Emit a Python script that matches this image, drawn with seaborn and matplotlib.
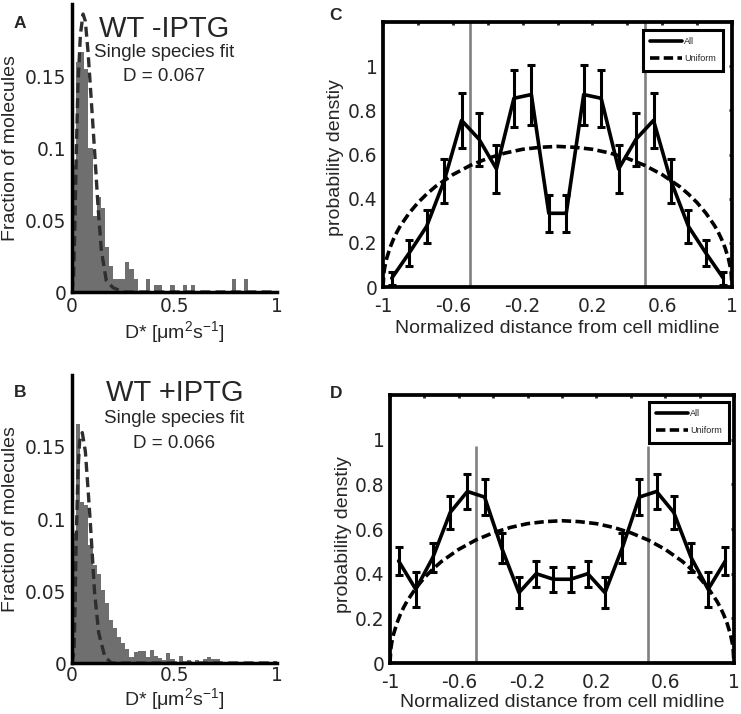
import numpy as np
import pandas as pd
import matplotlib
matplotlib.use("Agg")
import matplotlib.pyplot as plt
from matplotlib.lines import Line2D
import seaborn as sns

# --- panels A/B: D* histograms (fraction per 0.02 bin, 0..1) ---
bin_edges = np.linspace(0.0, 1.0, 51)
bin_centers = (bin_edges[:-1] + bin_edges[1:]) / 2

frac_minus_iptg = [
    0.088, 0.160, 0.167, 0.155, 0.100, 0.053, 0.066, 0.058, 0.031, 0.018,
    0.009, 0.009, 0.009, 0.021, 0.016, 0.009, 0.0, 0.0, 0.009, 0.0,
    0.0048, 0.0048, 0.0, 0.0, 0.0048, 0.0, 0.0, 0.0048, 0.0, 0.0048,
    0.0, 0.0, 0.0, 0.0, 0.0, 0.0, 0.0, 0.0, 0.0, 0.009,
    0.0, 0.0, 0.009, 0.0, 0.0, 0.0, 0.0, 0.0, 0.0, 0.0,
]
frac_plus_iptg = [
    0.090, 0.166, 0.112, 0.110, 0.082, 0.068, 0.062, 0.051, 0.042, 0.030,
    0.024, 0.018, 0.014, 0.010, 0.0045, 0.0075, 0.0085, 0.0085, 0.0045, 0.009,
    0.005, 0.0037, 0.002, 0.0068, 0.0025, 0.0, 0.005, 0.0, 0.0023, 0.0,
    0.0023, 0.0, 0.003, 0.004, 0.0025, 0.0025, 0.0, 0.0, 0.0, 0.0,
    0.0, 0.0, 0.0, 0.0, 0.0, 0.0007, 0.0, 0.0007, 0.0, 0.0015,
]

# single species fit curves
fit_minus_x = [0.0, 0.008, 0.013, 0.021, 0.029, 0.041, 0.054, 0.065, 0.078, 0.094,
               0.110, 0.127, 0.143, 0.167, 0.200, 0.250, 1.0]
fit_minus_y = [0.0, 0.012, 0.040, 0.098, 0.144, 0.179, 0.193, 0.188, 0.167, 0.133,
               0.098, 0.059, 0.029, 0.008, 0.003, 0.0, 0.0]
fit_plus_x = [0.0, 0.010, 0.016, 0.019, 0.024, 0.029, 0.037, 0.050, 0.065, 0.078,
              0.089, 0.099, 0.110, 0.130, 0.160, 0.192, 1.0]
fit_plus_y = [0.0, 0.008, 0.046, 0.077, 0.105, 0.133, 0.154, 0.160, 0.147, 0.121,
              0.098, 0.075, 0.049, 0.021, 0.0044, 0.0, 0.0]

# --- panels C/D: localisation along the cell ---
positions = [-0.95, -0.85, -0.75, -0.65, -0.55, -0.45, -0.35, -0.25, -0.15, -0.05,
             0.05, 0.15, 0.25, 0.35, 0.45, 0.55, 0.65, 0.75, 0.85, 0.95]
density_c = [0.04, 0.154, 0.275, 0.48, 0.755, 0.67, 0.535, 0.855, 0.872, 0.334,
             0.334, 0.872, 0.855, 0.535, 0.67, 0.755, 0.48, 0.275, 0.154, 0.04]
err_c = [0.03, 0.06, 0.075, 0.10, 0.125, 0.12, 0.11, 0.13, 0.136, 0.085,
         0.085, 0.136, 0.13, 0.11, 0.12, 0.125, 0.10, 0.075, 0.06, 0.03]
density_d = [0.457, 0.33, 0.474, 0.674, 0.768, 0.743, 0.514, 0.315, 0.40, 0.375,
             0.375, 0.40, 0.315, 0.514, 0.743, 0.768, 0.674, 0.474, 0.33, 0.457]
err_d = [0.062, 0.077, 0.065, 0.075, 0.077, 0.08, 0.067, 0.068, 0.058, 0.055,
         0.055, 0.058, 0.068, 0.067, 0.08, 0.077, 0.075, 0.065, 0.077, 0.062]

uniform_x = [-1.0, -0.995, -0.99, -0.98, -0.96, -0.94, -0.92, -0.90, -0.85, -0.80,
             -0.75, -0.70, -0.60, -0.50, -0.40, -0.30, -0.20, -0.10, 0.0,
             0.10, 0.20, 0.30, 0.40, 0.50, 0.60, 0.70, 0.75, 0.80, 0.85,
             0.90, 0.92, 0.94, 0.96, 0.98, 0.99, 0.995, 1.0]
uniform_y = [0.0, 0.064, 0.090, 0.127, 0.178, 0.217, 0.250, 0.278, 0.335, 0.382,
             0.421, 0.455, 0.509, 0.551, 0.583, 0.607, 0.624, 0.633, 0.637,
             0.633, 0.624, 0.607, 0.583, 0.551, 0.509, 0.455, 0.421, 0.382, 0.335,
             0.278, 0.250, 0.217, 0.178, 0.127, 0.090, 0.064, 0.0]

hist_ticks = [0, 0.05, 0.1, 0.15, 0.2]
hist_ticklabels = ["0", "0.05", "0.1", "0.15", ""]
dist_ticks = [-1, -0.8, -0.6, -0.4, -0.2, 0, 0.2, 0.4, 0.6, 0.8, 1]
dist_ticklabels = ["-1", "", "-0.6", "", "-0.2", "", "0.2", "", "0.6", "", "1"]
dens_ticks = [0, 0.2, 0.4, 0.6, 0.8, 1]
dens_ticklabels = ["0", "0.2", "0.4", "0.6", "0.8", "1"]

sns.set_style("white")
plt.rcParams["font.family"] = ["Liberation Sans", "DejaVu Sans"]
plt.rcParams["mathtext.default"] = "regular"
plt.rcParams["axes.unicode_minus"] = False

FS = 14
TICK_FS = 13.4
HIST_GRAY = "#6f6f6f"
UNIF_DASH = (0, (2.6, 1.2))

fig = plt.figure(figsize=(7.41, 7.14), dpi=100)


def hist_panel(rect, heights, fx, fy, title, dtext, tx, ty, xpad):
    ax = fig.add_axes(rect)
    hist_df = pd.DataFrame({"D": bin_centers, "frac": heights})
    sns.histplot(data=hist_df, x="D", weights="frac", binwidth=0.02, binrange=(0, 1),
                 element="step", fill=True, color=HIST_GRAY, alpha=1, linewidth=0, ax=ax)
    sns.lineplot(x=fx, y=fy, ax=ax, color="#2e2e2e", linewidth=2.4,
                 linestyle=(0, (3.0, 1.6)), sort=False)
    ax.set_xlim(0, 1)
    ax.set_ylim(0, 0.2)
    ax.set_xticks([0, 0.5, 1])
    ax.set_xticklabels(["0", "0.5", "1"])
    ax.set_yticks(hist_ticks)
    ax.set_yticklabels(hist_ticklabels)
    for side in ["top", "right"]:
        ax.spines[side].set_visible(False)
    for side in ["left", "bottom"]:
        ax.spines[side].set_linewidth(2.5)
        ax.spines[side].set_color("black")
    ax.tick_params(direction="in", length=2.5, width=2, labelsize=TICK_FS,
                   labelfontfamily="DejaVu Sans")
    ax.tick_params(axis="x", pad=xpad)
    ax.tick_params(axis="y", pad=4)
    ax.set_ylabel("Fraction of molecules", fontsize=FS, va="center")
    ax.yaxis.set_label_coords(-0.302, 0.5)
    ax.set_xlabel("D* [μm$^{2}$s$^{-1}$]", fontsize=FS, va="center")
    ax.text(tx, ty[0], title, transform=ax.transAxes, fontsize=21, ha="center", va="center")
    ax.text(tx, ty[1], "Single species fit", transform=ax.transAxes, fontsize=13.5,
            ha="center", va="center")
    ax.text(tx, ty[2], dtext, transform=ax.transAxes, fontsize=13.5, ha="center", va="center")
    return ax


def dist_panel(rect, dens, errs, vline_top, leg_anchor):
    ax = fig.add_axes(rect)
    ax.vlines([-0.5, 0.5], 0, vline_top, color="#808080", linewidth=1.9, zorder=1)
    sns.lineplot(x=uniform_x, y=uniform_y, ax=ax, color="black", linewidth=2.6,
                 linestyle=UNIF_DASH, sort=False, zorder=2)
    sns.lineplot(x=positions, y=dens, ax=ax, color="black", linewidth=2.6, zorder=3)
    ax.errorbar(positions, dens, yerr=errs, fmt="none", ecolor="black",
                elinewidth=2.2, capsize=2.6, capthick=2.2, zorder=3)
    ax.set_xlim(-1, 1)
    ax.set_ylim(0, 1.2)
    ax.set_xticks(dist_ticks)
    ax.set_xticklabels(dist_ticklabels)
    ax.set_yticks(dens_ticks)
    ax.set_yticklabels(dens_ticklabels)
    for side in ax.spines.values():
        side.set_linewidth(2.7)
        side.set_color("black")
    ax.tick_params(direction="in", length=2.5, width=2, labelsize=TICK_FS,
                   labelfontfamily="DejaVu Sans", top=True, right=True)
    ax.tick_params(axis="x", pad=7)
    ax.tick_params(axis="y", pad=4)
    ax.set_ylabel("probability denstiy", fontsize=FS, va="center")
    ax.set_xlabel("Normalized distance from cell midline", fontsize=FS, va="center")
    handles = [Line2D([], [], color="black", linewidth=2.6),
               Line2D([], [], color="black", linewidth=2.6, linestyle=UNIF_DASH)]
    leg = ax.legend(handles, ["All", "Uniform"], loc="upper right",
                    bbox_to_anchor=leg_anchor, borderaxespad=0, fontsize=6.5,
                    handlelength=3.5, handletextpad=0.25, labelspacing=0.9,
                    borderpad=0.8, fancybox=False, framealpha=1)
    leg.get_frame().set_edgecolor("black")
    leg.get_frame().set_linewidth(2.2)
    return ax


ax_a = hist_panel([0.0972, 0.591, 0.2767, 0.4034], frac_minus_iptg,
                  fit_minus_x, fit_minus_y, "WT -IPTG", "D = 0.067",
                  0.45, (0.913, 0.83, 0.75), 3.5)
ax_a.xaxis.set_label_coords(0.5, -0.14)
ax_b = hist_panel([0.0972, 0.0714, 0.2767, 0.4034], frac_plus_iptg,
                  fit_plus_x, fit_plus_y, "WT +IPTG", "D = 0.066",
                  0.50, (0.937, 0.85, 0.762), 2.0)
ax_b.xaxis.set_label_coords(0.5, -0.126)

ax_c = dist_panel([0.5169, 0.598, 0.471, 0.371], density_c, err_c, 1.2, (0.974, 0.970))
ax_c.yaxis.set_label_coords(-0.1375, 0.49)
ax_c.xaxis.set_label_coords(0.4986, -0.157)
ax_d = dist_panel([0.5263, 0.0714, 0.4642, 0.3754], density_d, err_d, 0.97, (0.986, 0.974))
ax_d.yaxis.set_label_coords(-0.136, 0.478)
ax_d.xaxis.set_label_coords(0.5, -0.148)

for letter, px, py in [("A", 20, 24), ("B", 20, 392), ("C", 336, 15), ("D", 336, 393)]:
    fig.text(px / 741, 1 - py / 714, letter, fontsize=12.5, fontweight="bold",
             ha="center", va="center")

fig.savefig("out.png", dpi=100)
